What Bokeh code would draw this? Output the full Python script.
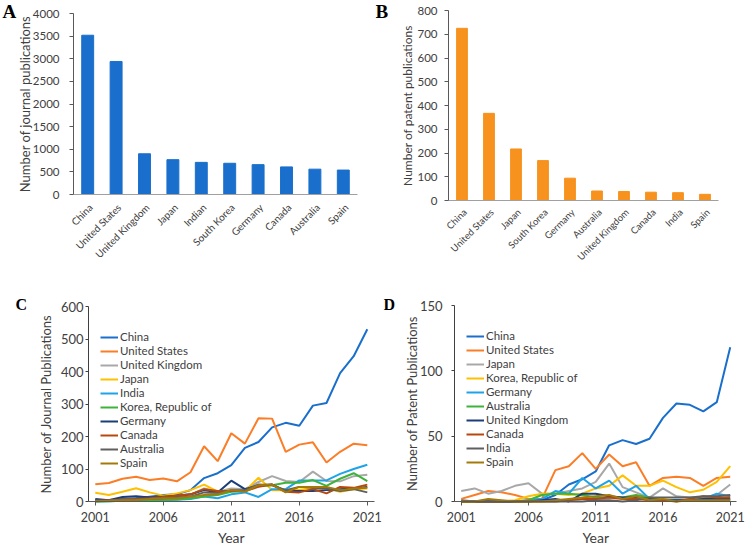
from bokeh.plotting import figure
from bokeh.layouts import row, column
from bokeh.models import (Range1d, FixedTicker, Label, LabelSet, Legend,
                          LegendItem, ColumnDataSource)
from bokeh.core.properties import value
from bokeh.embed import file_html
from bokeh.resources import INLINE
from math import pi

# ---------------- data ----------------
journal_countries = ["China", "United States", "United Kingdom", "Japan", "Indian",
                     "South Korea", "Germany", "Canada", "Australia", "Spain"]
journal_totals = [3520, 2940, 900, 770, 710, 690, 660, 610, 560, 540]

patent_countries = ["China", "United States", "Japan", "South Korea", "Germany",
                    "Australia", "United Kingdom", "Canada", "India", "Spain"]
patent_totals = [725, 367, 217, 168, 94, 40, 38, 35, 33, 26]

years = list(range(2001, 2022))
year_ticks = [2001, 2006, 2011, 2016, 2021]

journal_names = ["China", "United States", "United Kingdom", "Japan", "India",
                 "Korea, Republic of", "Germany", "Canada", "Australia", "Spain"]
j_china = [5, 5, 8, 10, 15, 20, 22, 35, 72, 87, 112, 165, 183, 228, 242, 233, 295, 303, 395, 447, 530]
j_us = [53, 57, 70, 76, 66, 71, 62, 90, 170, 124, 210, 178, 256, 255, 153, 175, 182, 120, 153, 178, 173]
j_uk = [2, 3, 5, 7, 8, 10, 12, 20, 40, 30, 40, 38, 60, 78, 63, 60, 92, 63, 62, 78, 82]
j_japan = [27, 20, 30, 41, 28, 18, 25, 35, 52, 30, 35, 32, 73, 35, 35, 36, 40, 40, 30, 38, 40]
j_india = [0, 1, 2, 2, 3, 4, 5, 8, 15, 10, 22, 28, 14, 38, 38, 65, 65, 65, 85, 100, 113]
j_korea = [0, 1, 2, 3, 4, 5, 6, 10, 15, 20, 30, 32, 48, 50, 58, 58, 66, 48, 70, 87, 63]
j_germany = [8, 4, 14, 16, 12, 15, 18, 22, 35, 28, 64, 38, 50, 52, 32, 32, 32, 35, 38, 40, 45]
j_canada = [2, 4, 6, 8, 10, 14, 18, 22, 38, 32, 32, 32, 45, 52, 30, 28, 38, 25, 45, 42, 52]
j_australia = [2, 3, 5, 6, 8, 10, 12, 15, 28, 26, 35, 35, 52, 50, 35, 45, 42, 40, 32, 38, 28]
j_spain = [1, 2, 4, 5, 8, 10, 10, 15, 20, 22, 35, 30, 50, 52, 28, 45, 45, 45, 35, 40, 42]
journal_series = [j_china, j_us, j_uk, j_japan, j_india, j_korea, j_germany, j_canada, j_australia, j_spain]

patent_names = ["China", "United States", "Japan", "Korea, Republic of", "Germany",
                "Australia", "United Kingdom", "Canada", "India", "Spain"]
p_china = [0, 0, 0, 0, 0, 0, 1, 5, 13, 17, 23, 43, 47, 44, 48, 64, 75, 74, 69, 76, 118]
p_us = [2, 5, 8, 7, 5, 2, 2, 24, 27, 37, 25, 36, 27, 30, 12, 18, 19, 18, 12, 18, 19]
p_japan = [8, 10, 6, 8, 12, 14, 6, 6, 8, 10, 15, 29, 11, 7, 3, 10, 4, 3, 3, 5, 13]
p_korea = [0, 0, 0, 0, 1, 4, 6, 6, 5, 6, 10, 12, 20, 12, 12, 16, 11, 7, 9, 15, 27]
p_germany = [0, 0, 0, 0, 0, 1, 2, 8, 6, 18, 10, 16, 6, 12, 2, 1, 1, 1, 2, 6, 4]
p_australia = [0, 0, 0, 0, 0, 1, 5, 6, 6, 5, 3, 3, 3, 5, 3, 1, 1, 1, 1, 1, 1]
p_uk = [0, 0, 0, 0, 0, 0, 1, 2, 0, 6, 6, 4, 3, 3, 2, 1, 1, 1, 2, 2, 2]
p_canada = [0, 0, 0, 0, 0, 0, 0, 0, 1, 2, 2, 3, 2, 2, 1, 1, 0, 2, 4, 3, 3]
p_india = [1, 0, 1, 0, 0, 0, 0, 0, 0, 0, 1, 1, 0, 1, 3, 3, 3, 3, 4, 4, 5]
p_spain = [0, 0, 2, 1, 0, 0, 0, 1, 2, 3, 4, 5, 2, 4, 1, 2, 0, 1, 1, 1, 1]
patent_series = [p_china, p_us, p_japan, p_korea, p_germany, p_australia, p_uk, p_canada, p_india, p_spain]

# ---------------- style ----------------
FONT = "Lato"
TXT = "#404040"
SERIES_COLORS = ["#1a6fcc", "#fb7d26", "#a8a8a8", "#ffc000", "#1fa3e8",
                 "#3db33a", "#1b3d78", "#b8470e", "#5f5f5f", "#a37a0a"]
BLUE_BAR = "#1a6fcc"
ORANGE_BAR = "#f7921e"


def base_fig(w, h, x_range, y_range):
    p = figure(width=w, height=h, x_range=x_range, y_range=y_range, title=None,
               output_backend="svg", toolbar_location=None,
               min_border_left=0, min_border_right=0,
               min_border_top=0, min_border_bottom=0)
    p.outline_line_color = None
    p.xgrid.grid_line_color = None
    p.ygrid.grid_line_color = None
    p.background_fill_color = "white"
    p.border_fill_color = "white"
    for ax in (p.xaxis[0], p.yaxis[0]):
        ax.major_label_text_font = FONT
        ax.major_label_text_color = TXT
        ax.minor_tick_line_color = None
    return p


def panel_letter(p, letter, lx, ly_top, h, size):
    p.add_layout(Label(x=lx, y=h - ly_top, x_units="screen", y_units="screen",
                       text=letter, text_font="Liberation Serif", text_font_style="bold",
                       text_font_size=size, text_color="black",
                       text_baseline="top", text_align="left"))


def y_title(p, text, lx, y_mid, size):
    p.add_layout(Label(x=lx, y=y_mid, x_units="screen", y_units="data", angle=pi / 2,
                       text=text, text_font=FONT, text_font_size=size, text_color=TXT,
                       text_align="center", text_baseline="middle"))


def bar_panel(w, h, lx0, lx1, ly_top, ly_zero, cats, vals, color, bw, ymax, ystep,
              cat_size, tick_standoff, cat_dy):
    n = len(cats)
    slot = (lx1 - lx0) / n
    x_start = -0.5 - lx0 / slot
    upp = ymax / (ly_zero - ly_top)
    p = base_fig(w, h, Range1d(x_start, x_start + w / slot),
                 Range1d(-(h - ly_zero) * upp, ymax + ly_top * upp))
    xs = list(range(n))
    p.vbar(x=xs, top=vals, width=bw, color=color)
    # y axis
    p.yaxis.fixed_location = -0.5
    p.yaxis.bounds = (0, ymax)
    p.yaxis.ticker = FixedTicker(ticks=list(range(0, ymax + 1, ystep)))
    p.yaxis.major_label_text_font_size = "11.5px"
    p.yaxis.axis_line_color = "#595959"
    p.yaxis.major_tick_line_color = "#595959"
    p.yaxis.major_tick_out = 4
    p.yaxis.major_tick_in = 0
    p.yaxis.major_label_standoff = tick_standoff
    # x axis (category baseline)
    p.xaxis.fixed_location = 0
    p.xaxis.bounds = (-0.5, n - 0.5)
    p.xaxis.ticker = FixedTicker(ticks=[])
    p.xaxis.axis_line_color = "#a0a0a0"
    p.xaxis.major_tick_line_color = None
    src = ColumnDataSource(dict(x=xs, y=[0] * n, t=cats))
    p.add_layout(LabelSet(x="x", y="y", text="t", source=src, angle=pi / 4,
                          text_align="right", text_baseline="middle",
                          x_offset=3, y_offset=cat_dy, text_font=value(FONT),
                          text_font_size=value(cat_size), text_color=value(TXT)))
    return p


# ---------------- panels A, B (origins (0,0) and (375,0)) ----------------
W1, H1 = 375, 264
pA = bar_panel(W1, H1, 73, 357, 13, 194, journal_countries, journal_totals,
               BLUE_BAR, 0.42, 4000, 500, "10px", 10, -11)
y_title(pA, "Number of journal publications", 24, 2000, "13px")
panel_letter(pA, "A", 2, 0, H1, "19px")

pB = bar_panel(W1, H1, 448 - 375, 718 - 375, 10, 200, patent_countries, patent_totals,
               ORANGE_BAR, 0.4, 800, 100, "9.5px", 7, -10)
y_title(pB, "Number of patent publications", 407 - 375, 400, "12px")
panel_letter(pB, "B", 0, 0, H1, "19px")


# ---------------- line panels ----------------
def line_panel(w, h, lx0, slot, ly_top, ly_zero, ymax, ystep, names, series,
               leg_x, leg_y, tick_standoff):
    x_start = (years[0] - 0.5) - lx0 / slot
    upp = ymax / (ly_zero - ly_top)
    p = base_fig(w, h, Range1d(x_start, x_start + w / slot),
                 Range1d(-(h - ly_zero) * upp, ymax + ly_top * upp))
    items = []
    for name, vals, col in zip(names, series, SERIES_COLORS):
        r = p.line(years, vals, line_color=col, line_width=2)
        items.append(LegendItem(label=name, renderers=[r]))
    p.yaxis.fixed_location = years[0] - 0.5
    p.yaxis.bounds = (0, ymax)
    p.xaxis.fixed_location = 0
    p.xaxis.bounds = (years[0] - 0.5, years[-1] + 0.5)
    p.xaxis.ticker = FixedTicker(ticks=year_ticks)
    p.yaxis.ticker = FixedTicker(ticks=list(range(0, ymax + 1, ystep)))
    p.xaxis.major_label_text_font_size = "12.5px"
    p.yaxis.major_label_text_font_size = "13px"
    p.yaxis.axis_line_color = "#404040"
    p.yaxis.major_tick_line_color = "#404040"
    p.xaxis.axis_line_color = "#595959"
    p.xaxis.major_tick_line_color = "#595959"
    p.yaxis.major_tick_out = 3
    p.xaxis.major_tick_out = 4
    p.yaxis.major_tick_in = 0
    p.xaxis.major_tick_in = 0
    p.xaxis.major_label_standoff = 6
    p.yaxis.major_label_standoff = tick_standoff
    p.add_layout(Label(x=(years[0] + years[-1]) / 2, y=0, y_offset=-36, text="Year",
                       text_font=FONT, text_font_size="14px", text_color=TXT,
                       text_align="center", text_baseline="middle"))
    leg = Legend(items=items, location=(leg_x, leg_y))
    leg.label_text_font = FONT
    leg.label_text_font_size = "11.5px"
    leg.label_text_color = TXT
    leg.label_height = 14
    leg.glyph_height = 14
    leg.glyph_width = 18
    leg.label_standoff = 2
    leg.spacing = 0
    leg.padding = 0
    leg.margin = 0
    leg.border_line_color = None
    leg.background_fill_alpha = 0
    p.add_layout(leg)
    return p


# origins: C (0,264), D (383,264)
H2 = 282
TOP2 = 264
WC, WD = 383, 367
pC = line_panel(WC, H2, 88, 13.6, 306 - TOP2, 501 - TOP2, 600, 100,
                journal_names, journal_series,
                100, H2 - (336.7 - TOP2 - 7 + 140), 2)
y_title(pC, "Number of Journal Publications", 45, 300, "13px")
panel_letter(pC, "C", 15, 31, H2, "16px")

pD = line_panel(WD, H2, 454 - 383, 13.45, 305 - TOP2, 501 - TOP2, 150, 50,
                patent_names, patent_series,
                466 - 383, H2 - (335.7 - TOP2 - 7 + 140), 9)
y_title(pD, "Number of Patent Publications", 411 - 383, 75, "13px")
panel_letter(pD, "D", 0, 31, H2, "16px")

layout = column(row(pA, pB), row(pC, pD))
open("out.html", "w").write(file_html(layout, INLINE))
